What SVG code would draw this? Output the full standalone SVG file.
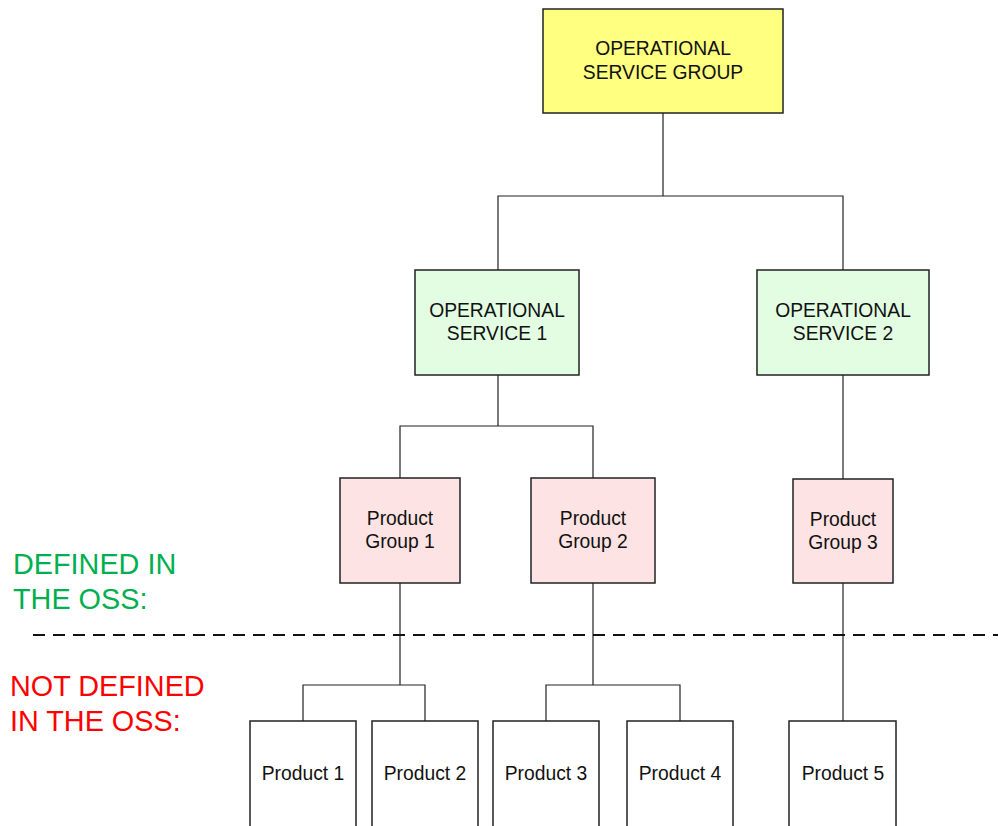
<svg xmlns="http://www.w3.org/2000/svg" width="998" height="826" viewBox="0 0 998 826">
<style>
.box{stroke:#222;stroke-width:1.5}
.y{fill:#ffff80}
.g{fill:#e3fde3}
.p{fill:#fde3e3}
.w{fill:#fff}
.t{font-family:"Liberation Sans",Arial,sans-serif;font-size:19.3px;fill:#111;text-anchor:middle}
.c{fill:none;stroke:#222;stroke-width:1.2}
.lab{font-family:"Liberation Sans",Arial,sans-serif;font-size:28.8px}
</style>
<rect width="998" height="826" fill="#fff"/>
<g id="connectors">
<path class="c" d="M663 113V196M498 270V196H843V270"/>
<path class="c" d="M498 375V426M400 478V426H593V478"/>
<path class="c" d="M843 375V479"/>
<path class="c" d="M400 583V685M303 721V685H425V721"/>
<path class="c" d="M593 583V685M546 721V685H680V721"/>
<path class="c" d="M843 583V721"/>
</g>
<g id="divider">
<line x1="33" y1="635" x2="998" y2="635" stroke="#111" stroke-width="2" stroke-dasharray="12,8"/>
</g>
<g id="label-defined">
<text class="lab" fill="#00b050" x="13" y="574">DEFINED IN</text>
<text class="lab" fill="#00b050" x="13" y="609">THE OSS:</text>
</g>
<g id="label-notdefined">
<text class="lab" fill="#ff0000" x="10" y="696">NOT DEFINED</text>
<text class="lab" fill="#ff0000" x="10" y="731">IN THE OSS:</text>
</g>
<g id="osg">
<rect class="box y" x="543" y="9" width="240" height="104"/>
<text class="t" x="663" y="55">OPERATIONAL</text>
<text class="t" x="663" y="79">SERVICE GROUP</text>
</g>
<g id="os1">
<rect class="box g" x="415" y="270" width="164" height="105"/>
<text class="t" x="497" y="317">OPERATIONAL</text>
<text class="t" x="497" y="340">SERVICE 1</text>
</g>
<g id="os2">
<rect class="box g" x="757" y="270" width="172" height="105"/>
<text class="t" x="843" y="317">OPERATIONAL</text>
<text class="t" x="843" y="340">SERVICE 2</text>
</g>
<g id="pg1">
<rect class="box p" x="340" y="478" width="120" height="105"/>
<text class="t" x="400" y="525">Product</text>
<text class="t" x="400" y="548">Group 1</text>
</g>
<g id="pg2">
<rect class="box p" x="531" y="478" width="124" height="105"/>
<text class="t" x="593" y="525">Product</text>
<text class="t" x="593" y="548">Group 2</text>
</g>
<g id="pg3">
<rect class="box p" x="793" y="479" width="100" height="104"/>
<text class="t" x="843" y="526">Product</text>
<text class="t" x="843" y="549">Group 3</text>
</g>
<g id="p1">
<rect class="box w" x="250" y="721" width="106" height="120"/>
<text class="t" x="303" y="780">Product 1</text>
</g>
<g id="p2">
<rect class="box w" x="372" y="721" width="106" height="120"/>
<text class="t" x="425" y="780">Product 2</text>
</g>
<g id="p3">
<rect class="box w" x="493" y="721" width="106" height="120"/>
<text class="t" x="546" y="780">Product 3</text>
</g>
<g id="p4">
<rect class="box w" x="627" y="721" width="106" height="120"/>
<text class="t" x="680" y="780">Product 4</text>
</g>
<g id="p5">
<rect class="box w" x="789" y="721" width="107" height="120"/>
<text class="t" x="843" y="780">Product 5</text>
</g>
</svg>
